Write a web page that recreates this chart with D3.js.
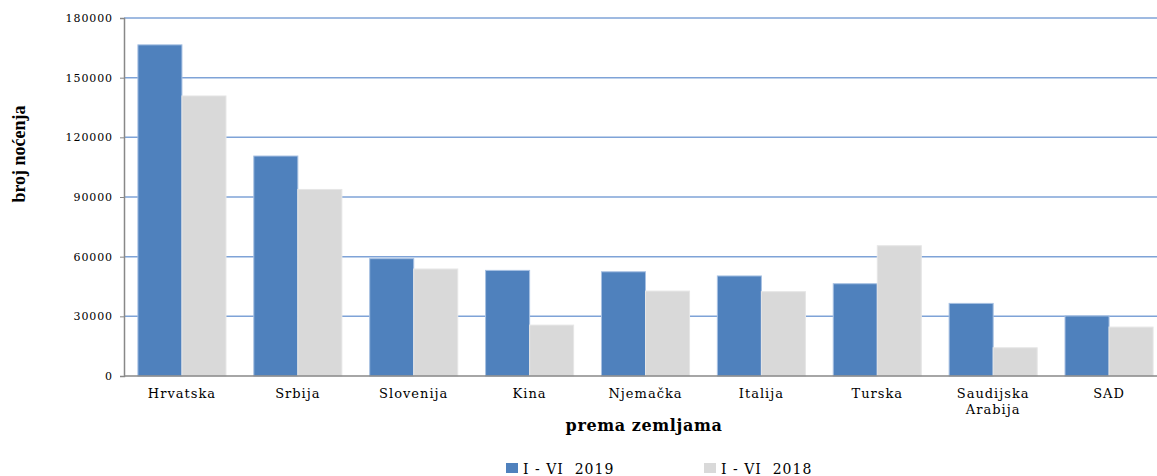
<!DOCTYPE html>
<html lang="hr">
<head>
<meta charset="utf-8">
<title>Noćenja prema zemljama</title>
<script src="https://d3js.org/d3.v7.min.js"></script>
<style>
  body { margin: 0; background: #fff; }
  svg text { fill: #000; }
</style>
</head>
<body>
<script>
// data
var countries = ["Hrvatska", "Srbija", "Slovenija", "Kina", "Njemačka", "Italija", "Turska", "Saudijska|Arabija", "SAD"];
var nights2019 = [166500, 110600, 59000, 53100, 52400, 50300, 46400, 36500, 30200];
var nights2018 = [140800, 93800, 53800, 25600, 42700, 42400, 65500, 14200, 24600];
var seriesNames = ["I - VI  2019", "I - VI  2018"];
var yTicks = [0, 30000, 60000, 90000, 120000, 150000, 180000];

var w = 1157, h = 476;
var mLeft = 124, mRight = 1167, mTop = 18, mBottom = 376;
var colors = ["#4F81BD", "#D9D9D9"];

var svg = d3.select("body").append("svg")
  .attr("width", w).attr("height", h);

var x = d3.scaleBand().domain(countries).range([mLeft, mRight]).paddingInner(0.24).paddingOuter(0.12);
var x1 = d3.scaleBand().domain([0, 1]).range([0, x.bandwidth()]);
var y = d3.scaleLinear().domain([0, 180000]).range([mBottom, mTop]);

// gridlines
svg.append("g").selectAll("line")
  .data(yTicks.filter(function(d) { return d > 0; }))
  .enter().append("line")
  .attr("x1", mLeft).attr("x2", w)
  .attr("y1", function(d) { return y(d); })
  .attr("y2", function(d) { return y(d); })
  .attr("stroke", "#7FA3D7").attr("stroke-width", 1.5);

// bars
var rows = countries.map(function(c, i) { return { c: c, v: [nights2019[i], nights2018[i]] }; });
var groups = svg.append("g").selectAll("g").data(rows).enter().append("g")
  .attr("transform", function(d) { return "translate(" + x(d.c) + ",0)"; });
groups.selectAll("rect")
  .data(function(d) { return d.v.map(function(v, k) { return { k: k, v: v }; }); })
  .enter().append("rect")
  .attr("x", function(d) { return x1(d.k); })
  .attr("width", x1.bandwidth())
  .attr("y", function(d) { return y(d.v); })
  .attr("height", function(d) { return y(0) - y(d.v); })
  .attr("fill", function(d) { return colors[d.k]; })
  .attr("stroke", function(d) { return d.k == 0 ? "#A7C0E2" : "#E6E6E6"; })
  .attr("stroke-width", 1);

// y axis
var yAxis = d3.axisLeft(y).tickValues(yTicks).tickSize(4).tickPadding(7).tickFormat(d3.format("d"));
var ga = svg.append("g").attr("transform", "translate(" + mLeft + ",0)").call(yAxis);
ga.select(".domain").attr("stroke", "#888").attr("stroke-width", 1.5);
ga.selectAll(".tick line").attr("stroke", "#888");
ga.selectAll("text").style("font-family", "DejaVu Serif").style("font-size", "11px")
  .style("letter-spacing", "0.9px");

// x axis
svg.append("line").attr("x1", mLeft).attr("x2", w).attr("y1", mBottom).attr("y2", mBottom)
  .attr("stroke", "#888").attr("stroke-width", 1.5);
var labels = svg.append("g").selectAll("text").data(countries).enter().append("text")
  .attr("y", 398)
  .attr("text-anchor", "middle")
  .style("font-family", "DejaVu Serif").style("font-size", "13px").style("letter-spacing", "1px");
labels.selectAll("tspan").data(function(d) { return d.split("|").map(function(s) { return { c: d, s: s }; }); })
  .enter().append("tspan")
  .attr("x", function(d) { return x(d.c) + x.bandwidth() / 2; })
  .attr("dy", function(d, i) { return i ? 16 : 0; })
  .text(function(d) { return d.s; });

// axis titles
svg.append("text").attr("x", 644).attr("y", 431).attr("text-anchor", "middle")
  .style("font-family", "DejaVu Serif").style("font-weight", "bold").style("font-size", "16px")
  .style("letter-spacing", "0.6px")
  .text("prema zemljama");
svg.append("text").attr("transform", "translate(25,154) rotate(-90)").attr("text-anchor", "middle")
  .style("font-family", "Liberation Serif").style("font-weight", "bold").style("font-size", "18px")
  .text("broj noćenja");

// legend
var legX = [506, 704];
var leg = svg.append("g").selectAll("g").data(seriesNames).enter().append("g")
  .attr("transform", function(d, i) { return "translate(" + legX[i] + ",463)"; });
leg.append("rect").attr("width", 12).attr("height", 10).attr("fill", function(d, i) { return colors[i]; });
leg.append("text").attr("x", 17).attr("y", 11)
  .style("font-family", "DejaVu Serif").style("font-size", "14px").style("letter-spacing", "1px")
  .style("white-space", "pre")
  .text(function(d) { return d; });
</script>
</body>
</html>
